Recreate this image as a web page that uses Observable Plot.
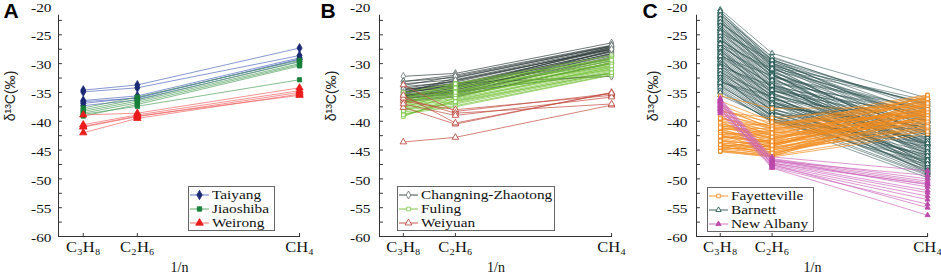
<!DOCTYPE html>
<html>
<head>
<meta charset="utf-8">
<script src="https://cdn.jsdelivr.net/npm/d3@7"></script>
<script src="https://cdn.jsdelivr.net/npm/@observablehq/plot@0.6"></script>
<style>
  body { margin: 0; background: #fff; }
  #wrap { position: relative; width: 941px; height: 277px; overflow: hidden; background: #fff; }
  .panel { position: absolute; top: 0; }
  .legend { position: absolute; border: 1px solid #666; background: #fff; box-sizing: border-box; padding-top: 1px; }
  .legend .row { display: flex; align-items: center; height: 14px; white-space: nowrap; }
  .legend .row span { display: inline-block; font-family: "Liberation Serif", "DejaVu Serif", "Times New Roman", serif; font-size: 13px; transform: scaleX(1.18); transform-origin: left center; margin-left: 2px; color: #111; line-height: 14px; }
</style>
</head>
<body>
<div id="wrap"></div>
<script>
// ---- axis definitions ----
const nCarbon = [3, 2, 1];                 // C3H8, C2H6, CH4 -> x = 1/n
const xLabels = ["C₃H₈", "C₂H₆", "CH₄"];
const yLabels = [-20, -25, -30, -35, -40, -45, -50, -55, -60];
const yTicks = [-22.5, -25, -27.5, -30, -32.5, -35, -37.5, -40, -42.5, -45, -47.5, -50, -52.5, -55, -57.5];
const xDomain = [0.257, 1.003];
const yDomain = [-60, -20];

// ---- panel A: each row = [δ13C C3H8, δ13C C2H6, δ13C CH4] ----
const taiyang = [
  [-34.6, -33.7, -27.3], [-34.9, -34.2, -28.6], [-36.4, -35.6, -29.0],
  [-36.9, -35.9, -29.3], [-37.3, -36.3, -29.6], [-36.6, -36.0, -29.2]
];
const jiaoshiba = [
  [-37.7, -35.8, -29.4], [-38.0, -36.2, -29.7], [-38.3, -36.5, -30.0],
  [-38.6, -36.8, -30.2], [-39.1, -37.1, -30.4], [-38.8, -37.4, -32.8]
];
const weirong = [
  [-38.9, -38.6, -34.2], [-40.6, -38.9, -34.7], [-41.0, -39.2, -35.0],
  [-42.0, -39.5, -35.3], [-40.9, -39.1, -35.5]
];

// ---- panel B ----
const changningZhaotong = [
  [-32.2, -31.7, -26.4], [-33.1, -32.0, -26.8], [-33.1, -32.4, -27.0], [-33.5, -32.8, -27.2],
  [-34.0, -33.2, -27.3], [-34.3, -33.0, -27.5], [-34.6, -33.5, -27.6], [-34.8, -33.8, -27.4],
  [-35.0, -34.0, -27.8], [-35.2, -33.6, -28.0], [-35.3, -34.3, -27.9], [-35.5, -34.6, -28.2],
  [-35.6, -34.8, -28.4], [-35.7, -35.0, -27.7], [-35.8, -34.5, -28.6], [-35.9, -35.2, -28.8],
  [-36.0, -35.4, -29.0], [-36.2, -35.0, -29.5], [-34.5, -33.4, -32.2], [-35.4, -34.9, -31.7],
  [-36.4, -35.6, -30.0], [-34.9, -34.1, -27.1], [-35.1, -32.5, -27.0], [-36.6, -35.8, -29.8],
  [-33.8, -32.2, -26.9], [-34.4, -33.9, -28.3], [-35.0, -32.9, -27.5], [-35.6, -34.2, -29.2]
];
const fuling = [
  [-35.0, -33.4, -28.6], [-35.5, -33.8, -29.0], [-35.8, -34.0, -29.3], [-36.0, -34.3, -29.6],
  [-36.3, -34.6, -29.9], [-36.5, -34.9, -30.1], [-36.7, -35.2, -30.3], [-36.9, -35.5, -30.5],
  [-37.1, -35.7, -30.7], [-37.3, -36.0, -30.9], [-37.5, -36.2, -31.1], [-37.7, -36.5, -31.3],
  [-37.9, -36.8, -31.5], [-38.1, -37.0, -31.7], [-38.4, -37.3, -31.9], [-38.7, -37.5, -32.0],
  [-39.0, -36.4, -30.6], [-39.2, -35.9, -29.8], [-36.2, -33.5, -29.2], [-37.0, -34.2, -30.0],
  [-38.2, -35.4, -31.0], [-36.8, -34.8, -29.4], [-37.6, -35.0, -30.4], [-38.9, -36.6, -31.6]
];
const weiyuan = [
  [-33.7, -38.3, -35.2], [-37.6, -40.5, -35.0], [-43.6, -42.8, -37.2], [-36.5, -38.0, -35.5],
  [-36.0, -38.6, -37.0], [-37.0, -39.0, -35.8], [-35.5, -40.3, -35.1]
];

// ---- panel C ----
const fayetteville = [
  [-35.6, -37.8, -37.5], [-36.5, -40.0, -35.4], [-37.2, -40.6, -36.0], [-38.0, -41.0, -35.8],
  [-38.6, -41.4, -36.4], [-39.0, -40.8, -37.0], [-39.4, -41.8, -36.6], [-39.8, -42.2, -37.4],
  [-40.1, -41.6, -38.0], [-40.4, -42.5, -36.2], [-40.7, -42.8, -37.8], [-41.0, -43.0, -38.4],
  [-41.2, -42.4, -39.0], [-41.5, -43.3, -37.2], [-41.8, -43.6, -38.8], [-42.0, -43.0, -39.4],
  [-42.2, -43.8, -36.8], [-42.5, -44.0, -38.2], [-42.7, -43.4, -39.8], [-43.0, -44.3, -37.6],
  [-43.2, -44.6, -40.2], [-43.5, -44.0, -38.6], [-43.7, -44.8, -39.2], [-44.0, -45.0, -40.6],
  [-44.2, -44.4, -37.0], [-44.5, -45.3, -41.0], [-44.8, -45.6, -39.6], [-45.0, -46.0, -41.6],
  [-45.3, -46.2, -42.2], [-41.4, -41.2, -36.0], [-40.0, -43.9, -38.6], [-42.9, -42.0, -40.8],
  [-44.6, -43.2, -35.6], [-39.2, -42.6, -39.8], [-43.9, -45.8, -38.0], [-38.4, -39.4, -37.3],
  [-41.6, -44.6, -41.4], [-42.4, -41.6, -35.9], [-40.9, -40.4, -39.0], [-44.9, -44.2, -36.6],
  [-38.2, -40.2, -38.8], [-39.6, -41.2, -40.0], [-40.3, -43.1, -36.4], [-40.8, -41.9, -37.9],
  [-41.3, -44.0, -39.2], [-41.9, -42.7, -40.4], [-42.3, -45.1, -37.3], [-42.8, -43.7, -41.2],
  [-43.3, -45.4, -38.3], [-43.8, -44.5, -40.0], [-44.3, -46.0, -39.0], [-44.7, -44.9, -41.8],
  [-45.1, -45.9, -36.9], [-39.5, -40.9, -35.5], [-41.1, -42.1, -38.1], [-42.6, -43.5, -36.1],
  [-43.4, -44.2, -39.5], [-44.1, -45.5, -40.9], [-37.6, -41.3, -38.4], [-45.2, -46.1, -37.9]
];
const barnett = [
  [-20.6, -28.2, -36.0], [-21.0, -29.0, -37.5], [-21.4, -29.3, -38.8], [-21.8, -29.5, -40.2],
  [-22.0, -29.8, -41.5], [-22.3, -30.0, -37.0], [-22.6, -30.2, -42.6], [-22.9, -30.5, -39.4],
  [-23.2, -30.7, -43.8], [-23.5, -31.0, -38.2], [-23.8, -31.2, -44.5], [-24.1, -31.5, -40.8],
  [-24.4, -31.7, -45.2], [-24.7, -32.0, -41.9], [-25.0, -32.2, -37.8], [-25.3, -32.5, -46.0],
  [-25.6, -32.7, -43.0], [-25.9, -33.0, -39.0], [-26.2, -33.2, -46.8], [-26.5, -33.5, -44.1],
  [-26.8, -33.7, -40.5], [-27.1, -34.0, -47.3], [-27.4, -34.2, -42.4], [-27.7, -34.5, -45.6],
  [-28.0, -34.7, -38.6], [-28.3, -35.0, -47.8], [-28.6, -35.2, -43.5], [-28.9, -35.5, -41.2],
  [-29.2, -35.7, -48.2], [-29.5, -36.0, -44.8], [-29.8, -36.2, -39.8], [-30.1, -36.5, -46.5],
  [-30.4, -36.7, -42.0], [-30.7, -37.0, -48.6], [-31.0, -37.2, -45.0], [-31.3, -37.5, -40.6],
  [-31.6, -37.7, -47.0], [-31.9, -38.0, -43.2], [-32.2, -38.2, -49.0], [-32.5, -38.5, -46.2],
  [-32.8, -38.7, -41.6], [-33.1, -39.0, -48.0], [-33.4, -39.2, -44.4], [-33.8, -39.5, -49.4],
  [-34.2, -39.8, -47.5], [-34.8, -40.0, -49.8], [-35.5, -39.6, -45.8], [-21.2, -30.4, -36.4],
  [-23.0, -29.2, -41.0], [-24.0, -30.8, -36.8], [-26.0, -31.4, -42.2], [-27.0, -32.4, -38.0],
  [-28.5, -33.6, -45.4], [-30.0, -34.8, -40.0], [-31.5, -35.8, -46.9], [-33.0, -36.8, -43.6],
  [-25.5, -34.4, -44.0], [-29.0, -38.4, -47.2], [-22.5, -31.8, -45.0], [-27.5, -36.4, -48.8],
  [-34.5, -40.2, -42.8], [-32.0, -39.4, -36.6],
  [-20.9, -29.6, -39.6], [-21.6, -28.8, -38.0], [-22.2, -30.6, -44.0], [-22.8, -29.9, -42.0],
  [-23.4, -31.6, -46.4], [-23.9, -30.1, -40.0], [-24.3, -32.3, -47.6], [-24.9, -31.1, -43.3],
  [-25.2, -33.3, -38.4], [-25.8, -31.9, -45.8], [-26.4, -34.1, -41.4], [-26.9, -32.9, -48.4],
  [-27.3, -35.1, -43.9], [-27.9, -33.9, -39.2], [-28.2, -35.8, -46.6], [-28.8, -34.6, -42.8],
  [-29.4, -36.6, -48.9], [-29.9, -35.4, -44.2], [-30.3, -37.4, -41.0], [-30.9, -36.1, -47.9],
  [-31.2, -38.3, -45.4], [-31.8, -37.0, -42.4], [-32.4, -39.1, -49.2], [-32.9, -37.9, -46.0],
  [-33.6, -39.7, -43.8], [-34.0, -38.9, -48.4], [-35.0, -40.0, -46.8], [-24.6, -29.4, -37.2],
  [-26.6, -30.9, -39.8], [-28.7, -32.1, -41.8], [-30.6, -33.8, -44.6], [-33.3, -35.6, -47.4]
];
const newAlbany = [
  [-36.0, -46.2, -48.6], [-36.2, -46.5, -50.0], [-36.5, -46.6, -50.4], [-36.8, -46.8, -50.7],
  [-37.0, -47.0, -51.0], [-37.2, -46.7, -51.4], [-37.5, -47.2, -52.0], [-37.8, -47.4, -52.4],
  [-38.0, -47.6, -53.0], [-38.3, -47.8, -53.6], [-37.4, -48.0, -54.4], [-36.6, -47.5, -55.0],
  [-38.6, -48.1, -56.3], [-36.3, -46.9, -49.4], [-37.9, -47.3, -50.9]
];

// ---- series styles ----
const panels = [
  { letter: "A", left: 0, width: 310, ml: 58, mr: 10, tp: 7, titleDx: -48, letterDx: -55,
    legend: { left: 188, top: 186, width: 87, height: 45 },
    series: [
      { name: "Taiyang", values: taiyang, line: "#4f66bd", op: 0.85, symbol: "diamond", fill: "#1b2a75", stroke: "#1b2a75", r: 2.7 },
      { name: "Jiaoshiba", values: jiaoshiba, line: "#4f9f5a", op: 0.85, symbol: "square", fill: "#17803a", stroke: "#17803a", r: 2.4 },
      { name: "Weirong", values: weirong, line: "#f26060", op: 0.85, symbol: "triangle", fill: "#ea1c1c", stroke: "#ea1c1c", r: 2.7 }
    ] },
  { letter: "B", left: 310, width: 310, ml: 69, mr: 8, tp: 9, titleDx: -48, letterDx: -59,
    legend: { left: 397, top: 186, width: 158, height: 45 },
    series: [
      { name: "Changning-Zhaotong", values: changningZhaotong, line: "#2c3b38", op: 0.85, symbol: "diamond", fill: "#fff", stroke: "#5f6b69", r: 2.3 },
      { name: "Fuling", values: fuling, line: "#6fbf30", op: 0.85, symbol: "square", fill: "#fff", stroke: "#7cc64a", r: 2.0 },
      { name: "Weiyuan", values: weiyuan, line: "#c0453a", op: 0.85, symbol: "triangle", fill: "#fff", stroke: "#b83a30", r: 2.4 }
    ] },
  { letter: "C", left: 620, width: 321, ml: 76, mr: 13, tp: 9, titleDx: -43, letterDx: -54,
    legend: { left: 707, top: 187, width: 107, height: 45 },
    order: [1, 0, 2],
    series: [
      { name: "Fayetteville", values: fayetteville, line: "#f28c1e", op: 0.85, symbol: "square", fill: "#fff", stroke: "#f08010", r: 1.9 },
      { name: "Barnett", values: barnett, line: "#2f5452", op: 0.7, symbol: "triangle", fill: "#fff", stroke: "#114a46", r: 1.9 },
      { name: "New Albany", values: newAlbany, line: "#cc66bb", op: 0.85, symbol: "triangle", fill: "#bb48aa", stroke: "#bb48aa", r: 1.9 }
    ] }
];

const axisColor = "#333";
const serif = "'Liberation Serif', 'DejaVu Serif', 'Times New Roman', serif";
const sans = "'Liberation Sans', Arial, sans-serif";
const tickShape = { draw(context, l) { context.moveTo(0, 0); context.lineTo(0, -l); } };

function rows(s) {
  return s.values.flatMap((v, i) => v.map((y, j) => ({ x: 1 / nCarbon[j], y, id: s.name + "-" + i })));
}

function seriesMarks(s) {
  const data = rows(s);
  return [
    Plot.line(data, { x: "x", y: "y", z: "id", stroke: s.line, strokeWidth: 0.8, strokeOpacity: s.op }),
    Plot.dot(data, { x: "x", y: "y", symbol: s.symbol, r: s.r, fill: s.fill, stroke: s.stroke, strokeWidth: 0.8 })
  ];
}

function stretchTexts(svg, selector, k) {
  svg.querySelectorAll(selector).forEach(el => {
    el.style.fontFamily = serif;
    if (el.hasAttribute("x")) el.setAttribute("x", +el.getAttribute("x") / k);
    const t = el.getAttribute("transform") || "";
    el.setAttribute("transform", (t + ` scale(${k},1)`).trim());
  });
}

const symbolMap = { diamond: d3.symbolDiamond, square: d3.symbolSquare, triangle: d3.symbolTriangle };

const wrap = document.getElementById("wrap");

panels.forEach(p => {
  const order = p.order || p.series.map((_, i) => i);
  const svg = Plot.plot({
    width: p.width, height: 277,
    marginLeft: p.ml, marginRight: p.mr, marginTop: 5.5, marginBottom: 41,
    style: { fontFamily: serif, fontSize: "13px", color: "#111", background: "transparent", overflow: "visible" },
    x: { domain: xDomain, axis: null },
    y: { domain: yDomain, axis: null },
    marks: [
      ...order.flatMap(i => seriesMarks(p.series[i])),
      // axis lines
      Plot.ruleX([xDomain[0]], { y1: -21.6, y2: -60, stroke: axisColor, strokeWidth: 1 }),
      Plot.ruleY([yDomain[0]], { stroke: axisColor, strokeWidth: 1 }),
      // inward ticks
      Plot.vector(yTicks, { y: d => d, frameAnchor: "left", length: 3, rotate: 90, anchor: "start", shape: tickShape, stroke: axisColor, strokeWidth: 1 }),
      Plot.vector(nCarbon, { x: d => 1 / d, frameAnchor: "bottom", length: 3, rotate: 0, anchor: "start", shape: tickShape, stroke: axisColor, strokeWidth: 1 }),
      // tick labels
      Plot.axisY({ ticks: yLabels, tickSize: 0, tickPadding: p.tp, dy: 1.5, tickFormat: d => String(d), label: null, fontSize: 13, fontFamily: serif, fill: "#111" }),
      Plot.axisX({ ticks: nCarbon.map(n => 1 / n), tickSize: 0, tickPadding: 6, tickFormat: d => xLabels[nCarbon.indexOf(Math.round(1 / d))], label: null, fontSize: 14, fontFamily: serif, fill: "#111" }),
      // axis titles
      Plot.text(["1/n"], { frameAnchor: "bottom", dy: 35, fontSize: 14, fontFamily: serif, fill: "#111", ariaLabel: "xtitle" }),
      Plot.text(["δ¹³C(‰)"], { frameAnchor: "left", rotate: -90, dx: p.titleDx, fontSize: 14, fontFamily: sans, fill: "#222" }),
      // panel letter
      Plot.text([p.letter], { frameAnchor: "top-left", dx: p.letterDx, dy: -3, textAnchor: "start", lineAnchor: "top", fontSize: 21, fontWeight: "bold", fontFamily: sans, fill: "#000" })
    ]
  });
  stretchTexts(svg, 'g[aria-label="y-axis tick label"] text, g[aria-label="x-axis tick label"] text, g[aria-label="xtitle"] text', 1.18);
  svg.classList.add("panel");
  svg.style.left = p.left + "px";
  wrap.appendChild(svg);

  // legend
  const lg = document.createElement("div");
  lg.className = "legend";
  Object.assign(lg.style, { left: p.legend.left + "px", top: p.legend.top + "px", width: p.legend.width + "px", height: p.legend.height + "px" });
  p.series.forEach(s => {
    const row = document.createElement("div");
    row.className = "row";
    const sw = d3.create("svg").attr("width", 21).attr("height", 12).style("flex", "none");
    sw.append("line").attr("x1", 1).attr("x2", 20).attr("y1", 6).attr("y2", 6).attr("stroke", s.line).attr("stroke-width", 0.9);
    sw.append("path").attr("transform", "translate(10.5,6)")
      .attr("d", d3.symbol(symbolMap[s.symbol], Math.PI * s.r * s.r * 1.1)())
      .attr("fill", s.fill).attr("stroke", s.stroke).attr("stroke-width", 0.8);
    row.appendChild(sw.node());
    const span = document.createElement("span");
    span.textContent = s.name;
    row.appendChild(span);
    lg.appendChild(row);
  });
  wrap.appendChild(lg);
});
</script>
</body>
</html>
